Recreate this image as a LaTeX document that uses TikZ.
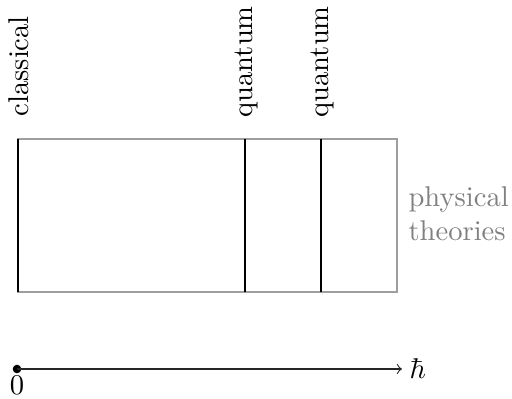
\documentclass[tikz,border=0pt]{standalone}
\begin{document}
\begin{tikzpicture}[x=0.35pt,y=-0.35pt,
  frame/.style={draw=black!38,line width=0.55pt},
  theory/.style={draw=black,line width=0.8pt},
  vlabel/.style={rotate=90,anchor=west,inner sep=0pt},
  note/.style={text=black!50,align=left,inner sep=0pt,anchor=west},
  axis/.style={draw=black!85,line width=0.4pt,->}]
  \useasboundingbox (0,0) rectangle (512,398);
  % the box of physical theories
  \draw[frame] (18,139) rectangle (397,292);
  \coordinate (c1t) at (18,139);  \coordinate (c1b) at (18,292);
  \coordinate (q1t) at (245,139); \coordinate (q1b) at (245,292);
  \coordinate (q2t) at (321,139); \coordinate (q2b) at (321,292);
  \draw[theory] (c1t) -- (c1b);
  \draw[theory] (q1t) -- (q1b);
  \draw[theory] (q2t) -- (q2b);
  \node[vlabel] (lc) at (19,117) {classical};
  \node[vlabel] (lq1) at (246,118) {quantum};
  \node[vlabel] (lq2) at (322,118) {quantum};
  \node[note] (pt) at (408,214) {physical\\theories};
  % the hbar axis
  \node[circle,fill=black,inner sep=0pt,minimum size=3pt] (o) at (17,369) {};
  \coordinate (e) at (402,369);
  \draw[axis] (o.center) -- (e);
  \node[anchor=west,inner sep=0pt] (h) at (409,369) {$\hbar$};
  \node[anchor=north,inner sep=0pt] (z) at (17,376) {$0$};
\end{tikzpicture}
\end{document}
